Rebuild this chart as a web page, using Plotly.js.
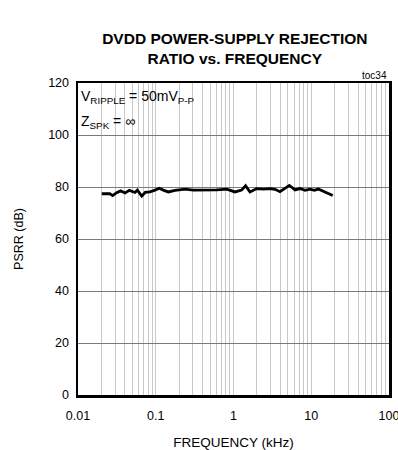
<!DOCTYPE html>
<html><head><meta charset="utf-8">
<script src="https://cdn.plot.ly/plotly-3.0.1.min.js"></script>
<style>html,body{margin:0;padding:0;background:#fff}</style>
</head><body><div id="chart" style="width:398px;height:450px"></div>
<script>
const freqKHz = [0.0202,0.0257,0.0279,0.0314,0.0354,0.0403,0.0458,0.054,0.058,0.066,0.073,0.084,0.096,0.111,0.125,0.145,0.177,0.238,0.304,0.452,0.608,0.818,1.045,1.27,1.43,1.63,1.99,2.42,2.95,3.42,3.96,5.23,6.18,7.17,8.31,9.64,10.96,12.3,14.3,15.8,18.9];
const psrrDb = [77.4,77.4,76.7,77.8,78.5,77.7,78.7,77.9,78.8,76.5,77.9,78.1,78.7,79.5,78.8,78.1,78.7,79.2,78.8,78.7,78.9,79.2,78.1,78.8,80.5,78.1,79.4,79.2,79.4,79.1,78.2,80.6,78.9,79.4,78.7,79.2,78.7,79.2,78.3,77.9,76.7];
const decadeLabels = ["0.01","0.1","1","10","100"];
const decades = [0.01,0.1,1,10,100];
const yTicks = [0,20,40,60,80,100,120];

const gridVals = [], gridText = [];
decades.forEach((d,i)=>{
  gridVals.push(d); gridText.push(decadeLabels[i]);
  if (i < decades.length-1) for (let m=2;m<=9;m++){ gridVals.push(d*m); gridText.push(""); }
});

const fam = "Liberation Sans, Arial, sans-serif";
const data = [{x:freqKHz, y:psrrDb, type:"scatter", mode:"lines",
  line:{color:"#000", width:2.8}, hoverinfo:"skip"}];
const layout = {
  width:398, height:450, margin:{l:78,r:9,t:83,b:55},
  paper_bgcolor:"#fff", plot_bgcolor:"#fff", showlegend:false, font:{family:fam, color:"#000"},
  title:{text:"<b>DVDD POWER-SUPPLY REJECTION<br>RATIO vs. FREQUENCY</b>", x:0.59, xanchor:"center", y:0.903, yanchor:"top",
    font:{family:fam, size:15.5, color:"#000"}},
  xaxis:{type:"log", range:[-2,2], tickmode:"array", tickvals:gridVals, ticktext:gridText, ticklabeloverflow:"allow",
    showgrid:true, gridcolor:"#c8c8c8", gridwidth:1, ticks:"", showline:true, linecolor:"#000", linewidth:2.5, mirror:true,
    tickfont:{size:12.5, family:fam, color:"#000"}, zeroline:false, ticklabelstandoff:7,
    title:{text:"FREQUENCY (kHz)", standoff:18, font:{size:13.5, family:fam, color:"#000"}}},
  yaxis:{range:[0,120], tickmode:"array", tickvals:yTicks, showgrid:true, gridcolor:"#7a7a7a", gridwidth:1,
    ticks:"", showline:true, linecolor:"#000", linewidth:2.5, mirror:true, zeroline:false,
    tickfont:{size:12.5, family:fam, color:"#000"}, ticklabelstandoff:4,
    title:{text:"PSRR (dB)", standoff:22, font:{size:12.5, family:fam, color:"#000"}}},
  annotations:[
    {xref:"paper", yref:"paper", x:1, y:1, xanchor:"right", yanchor:"bottom", showarrow:false, yshift:0,
     text:"toc34", font:{size:10, family:fam, color:"#000"}},
    {xref:"paper", yref:"paper", x:0, y:0.955, xanchor:"left", yanchor:"middle", showarrow:false, xshift:1,
     text:"V<sub>RIPPLE</sub> = 50mV<sub>P-P</sub>", font:{size:14, family:fam, color:"#000"}},
    {xref:"paper", yref:"paper", x:0, y:0.875, xanchor:"left", yanchor:"middle", showarrow:false, xshift:1,
     text:"Z<sub>SPK</sub> = ∞", font:{size:14, family:fam, color:"#000"}}
  ]
};
Plotly.newPlot("chart", data, layout, {displayModeBar:false, staticPlot:true});
</script></body></html>
